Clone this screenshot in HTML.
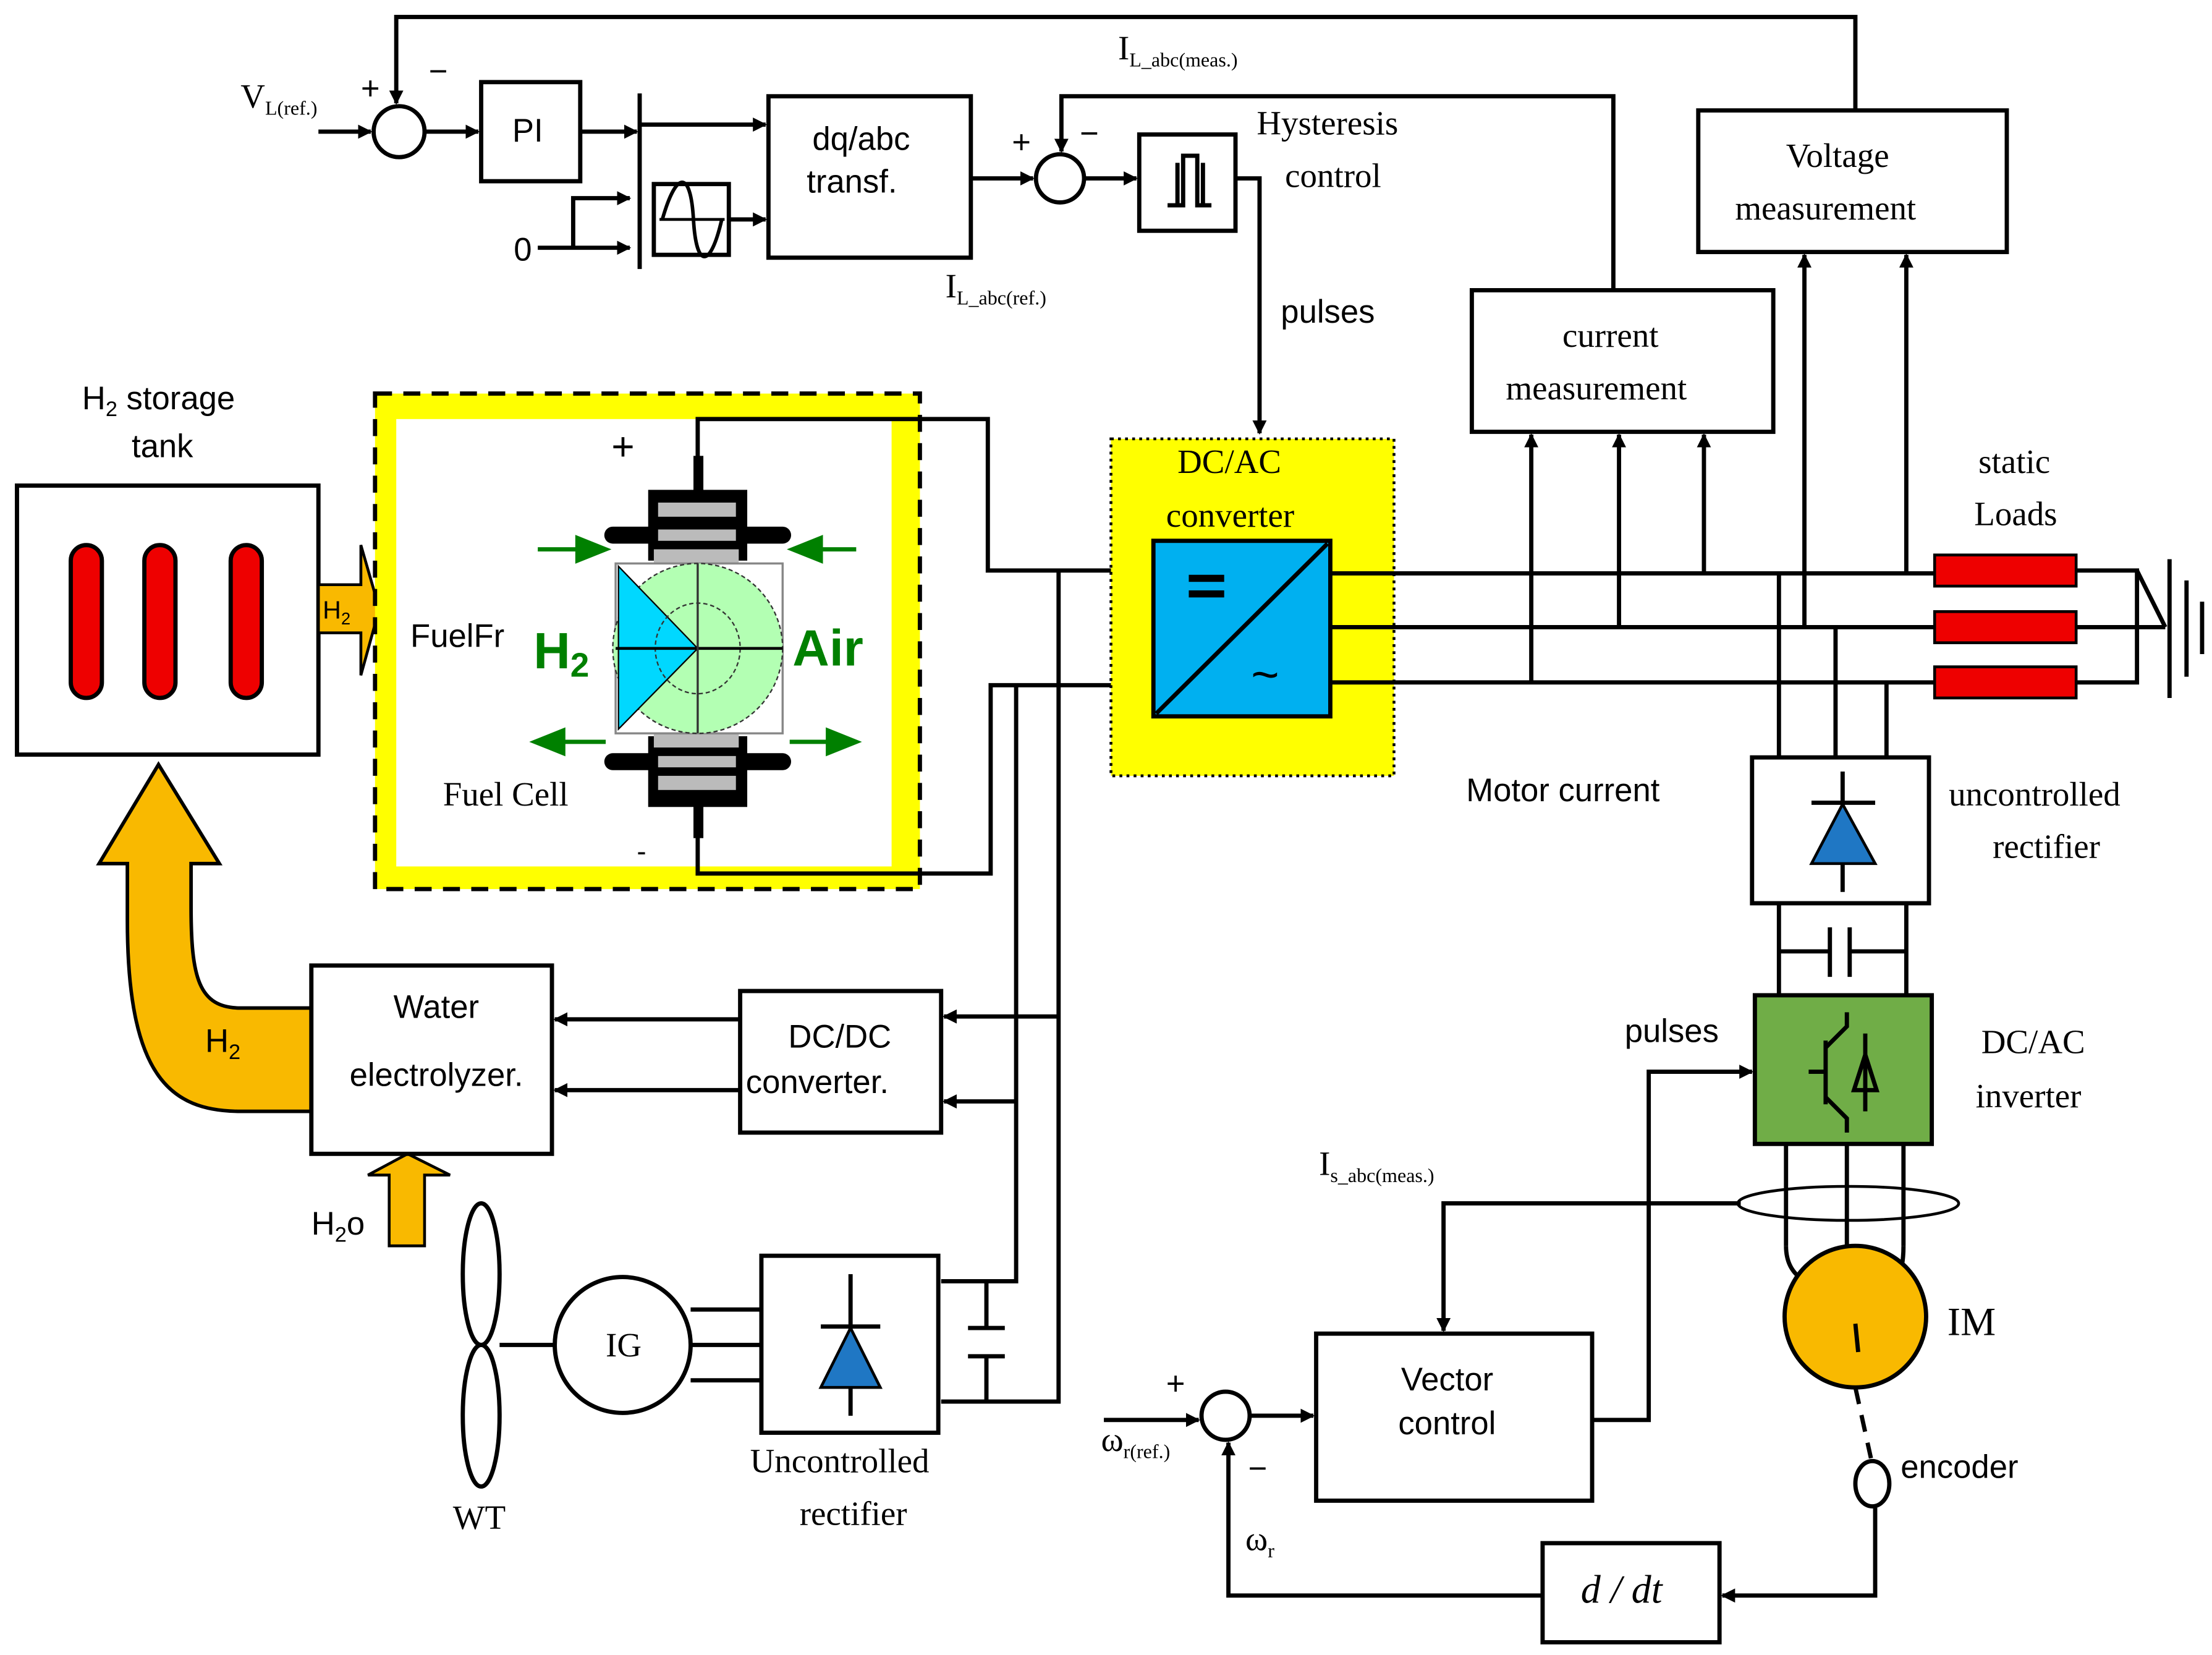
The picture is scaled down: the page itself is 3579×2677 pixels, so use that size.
<!DOCTYPE html>
<html><head><meta charset="utf-8"><style>
html,body{margin:0;padding:0;background:#fff;}
svg{display:block;}
.s{font-family:"Liberation Sans",sans-serif;}
.r{font-family:"Liberation Serif",serif;}
</style></head><body>
<svg width="3579" height="2677" viewBox="0 0 1563 1169" preserveAspectRatio="none" xmlns="http://www.w3.org/2000/svg">
<defs>
<marker id="a" markerWidth="10" markerHeight="10" refX="9" refY="5" orient="auto" markerUnits="userSpaceOnUse"><path d="M0,0 L10,5 L0,10 z" fill="#000"/></marker>
</defs>
<rect width="1563" height="1169" fill="#fff"/>
<g stroke="#000" stroke-width="3" fill="none">
<polyline points="1311,78 1311,12 280,12 280,73" marker-end="url(#a)"/>
<line x1="225" y1="93" x2="262" y2="93" marker-end="url(#a)"/>
<circle cx="282" cy="93" r="18" fill="#fff"/>
<line x1="300" y1="93" x2="338" y2="93" marker-end="url(#a)"/>
<rect x="340" y="58" width="70" height="70"/>
<line x1="410" y1="93" x2="450" y2="93" marker-end="url(#a)"/>
<line x1="452" y1="66" x2="452" y2="190"/>
<line x1="452" y1="88" x2="541" y2="88" marker-end="url(#a)"/>
<line x1="380" y1="175" x2="445" y2="175" marker-end="url(#a)"/>
<polyline points="405,175 405,140 445,140" marker-end="url(#a)"/>
<rect x="462" y="130" width="53" height="50"/>
<line x1="515" y1="155" x2="541" y2="155" marker-end="url(#a)"/>
<rect x="543" y="68" width="143" height="114"/>
<line x1="686" y1="126" x2="730" y2="126" marker-end="url(#a)"/>
<circle cx="749" cy="126" r="17" fill="#fff"/>
<polyline points="1140,205 1140,68 750,68 750,107" marker-end="url(#a)"/>
<line x1="766" y1="126" x2="803" y2="126" marker-end="url(#a)"/>
<rect x="805" y="95" width="68" height="68"/>
<polyline points="873,126 890,126 890,306" marker-end="url(#a)"/>
<rect x="1040" y="205" width="213" height="100"/>
<rect x="1200" y="78" width="218" height="100"/>
</g>
<path d="M825,145 L836,145 L836,110 L846,110 L846,145 L856,145 M832,145 L832,115 M850,145 L850,115" stroke="#000" stroke-width="3" fill="none"/>
<path d="M468,155 C478,120 488,120 490,155 C492,190 502,190 510,155" stroke="#000" stroke-width="2.5" fill="none"/>
<line x1="466" y1="155" x2="512" y2="155" stroke="#000" stroke-width="2"/>
<g class="s" font-size="23" fill="#000">
<text x="362" y="100">PI</text>
<text x="574" y="106">dq/abc</text>
<text x="570" y="136">transf.</text>
<text x="363" y="184">0</text>
<text x="255" y="70">+</text><text x="303" y="58">−</text>
<text x="715" y="108">+</text><text x="763" y="102">−</text>
<text x="905" y="228">pulses</text>
<text x="1036" y="566">Motor current</text>
<text x="1148" y="736">pulses</text>
<text x="990" y="982">Vector</text>
<text x="988" y="1013">control</text>
<text x="557" y="740">DC/DC</text>
<text x="527" y="772">converter.</text>
<text x="58" y="289">H<tspan font-size="15" dy="5">2</tspan><tspan dy="-5"> storage</tspan></text>
<text x="93" y="323">tank</text>
<text x="1343" y="1044">encoder</text>
<text x="824" y="985">+</text><text x="882" y="1045">−</text>
<text x="220" y="872">H<tspan font-size="15" dy="5">2</tspan><tspan dy="-5">o</tspan></text>
</g>
<g class="r" font-size="24" fill="#000">
<text x="170" y="76">V<tspan font-size="14" dy="5">L(ref.)</tspan></text>
<text x="790" y="42">I<tspan font-size="14" dy="5">L_abc(meas.)</tspan></text>
<text x="668" y="210">I<tspan font-size="14" dy="5">L_abc(ref.)</tspan></text>
<text x="888" y="95">Hysteresis</text>
<text x="908" y="132">control</text>
<text x="1104" y="245">current</text>
<text x="1064" y="282">measurement</text>
<text x="1262" y="118">Voltage</text>
<text x="1226" y="155">measurement</text>
<text x="1398" y="334">static</text>
<text x="1395" y="371">Loads</text>
<text x="1377" y="569">uncontrolled</text>
<text x="1408" y="606">rectifier</text>
<text x="1400" y="744">DC/AC</text>
<text x="1396" y="782">inverter</text>
<text x="1376" y="943" font-size="28">IM</text>
<text x="932" y="830">I<tspan font-size="14" dy="5">s_abc(meas.)</tspan></text>
<text x="778" y="1025">ω<tspan font-size="14" dy="5">r(ref.)</tspan></text>
<text x="880" y="1095">ω<tspan font-size="14" dy="5">r</tspan></text>
<text x="1117" y="1132" font-style="italic" font-size="28">d / dt</text>
<text x="320" y="1080">WT</text>
<text x="530" y="1040">Uncontrolled</text>
<text x="565" y="1077">rectifier</text>
</g>
<rect x="12" y="343" width="213" height="190" fill="#fff" stroke="#000" stroke-width="3"/>
<g fill="#e00" stroke="#000" stroke-width="3">
<rect x="50" y="385" width="22" height="108" rx="11"/>
<rect x="102" y="385" width="22" height="108" rx="11"/>
<rect x="163" y="385" width="22" height="108" rx="11"/>
</g>
<path d="M225,413 L255,413 L255,385 L268,430 L255,477 L255,447 L225,447 z" fill="#f9b900" stroke="#000" stroke-width="2"/>
<text x="228" y="437" class="s" font-size="18">H<tspan font-size="12" dy="4">2</tspan></text>
<path d="M220,712 L170,712 C140,712 135,690 135,640 L135,610 L155,610 L112,540 L70,610 L90,610 L90,650 C90,760 120,785 170,785 L220,785 z" fill="#f9b900" stroke="#000" stroke-width="2.5"/>
<path d="M275,880 L275,830 L260,830 L288,815 L318,830 L300,830 L300,880 z" fill="#f9b900" stroke="#000" stroke-width="2"/>
<rect x="265" y="278" width="385" height="350" fill="#ff0" stroke="#000" stroke-width="3" stroke-dasharray="12,8"/>
<rect x="280" y="296" width="350" height="316" fill="#fff"/>
<g stroke="#000" stroke-width="3" fill="none">
<polyline points="493,330 493,296 698,296 698,403 815,403"/>
<polyline points="493,590 493,617 700,617 700,484 815,484"/>
<polyline points="748,403 748,990 665,990"/>
<polyline points="718,484 718,905 665,905"/>
<line x1="748" y1="718" x2="667" y2="718" marker-end="url(#a)"/>
<line x1="718" y1="778" x2="667" y2="778" marker-end="url(#a)"/>
<line x1="523" y1="720" x2="392" y2="720" marker-end="url(#a)"/>
<line x1="523" y1="770" x2="392" y2="770" marker-end="url(#a)"/>
<rect x="220" y="682" width="170" height="133" fill="#fff"/>
<rect x="523" y="700" width="142" height="100"/>
<line x1="697" y1="905" x2="697" y2="938"/><line x1="697" y1="958" x2="697" y2="990"/>
<line x1="684" y1="938" x2="710" y2="938"/><line x1="684" y1="958" x2="710" y2="958"/>
</g>
<rect x="458" y="346" width="70" height="50" fill="#000"/>
<rect x="427" y="372" width="132" height="12" rx="6" fill="#000"/>
<rect x="465" y="355" width="55" height="10" fill="#bbb"/><rect x="465" y="374" width="55" height="8" fill="#bbb"/><rect x="462" y="388" width="60" height="10" fill="#bbb"/>
<rect x="458" y="520" width="70" height="50" fill="#000"/>
<rect x="427" y="532" width="132" height="12" rx="6" fill="#000"/>
<rect x="462" y="518" width="60" height="10" fill="#bbb"/><rect x="465" y="534" width="55" height="8" fill="#bbb"/><rect x="465" y="548" width="55" height="10" fill="#bbb"/>
<rect x="490" y="322" width="7" height="26" fill="#000"/><rect x="490" y="568" width="7" height="24" fill="#000"/>
<rect x="435" y="398" width="118" height="120" fill="#fff" stroke="#888" stroke-width="1.5"/>
<ellipse cx="493" cy="458" rx="60" ry="60" fill="#b3ffb3" stroke="#333" stroke-dasharray="3,2"/>
<path d="M437,400 L493,458 L437,515 z" fill="#00d8ff" stroke="#000"/>
<ellipse cx="493" cy="458" rx="30" ry="32" fill="none" stroke="#333" stroke-dasharray="3,2"/>
<line x1="435" y1="458" x2="553" y2="458" stroke="#000" stroke-width="2"/>
<line x1="493" y1="398" x2="493" y2="518" stroke="#333" stroke-width="1.5"/>
<g fill="#008000" stroke="#008000" stroke-width="3">
<line x1="380" y1="388" x2="410" y2="388"/><path d="M428,388 L408,380 L408,396 z"/>
<line x1="605" y1="388" x2="578" y2="388"/><path d="M560,388 L580,380 L580,396 z"/>
<line x1="428" y1="524" x2="398" y2="524"/><path d="M378,524 L398,516 L398,532 z"/>
<line x1="558" y1="524" x2="585" y2="524"/><path d="M605,524 L585,516 L585,532 z"/>
</g>
<text x="377" y="472" class="s" font-size="36" font-weight="bold" fill="#008000">H<tspan font-size="24" dy="6">2</tspan></text>
<text x="560" y="470" class="s" font-size="36" font-weight="bold" fill="#008000">Air</text>
<text x="432" y="325" class="s" font-size="28">+</text>
<text x="450" y="608" class="s" font-size="20">-</text>
<rect x="785" y="310" width="200" height="238" fill="#ff0" stroke="#000" stroke-width="2" stroke-dasharray="2,3"/>
<text x="832" y="334" class="r" font-size="24">DC/AC</text>
<text x="824" y="372" class="r" font-size="24">converter</text>
<rect x="815" y="382" width="125" height="124" fill="#00b0f0" stroke="#000" stroke-width="3"/>
<line x1="817" y1="504" x2="938" y2="384" stroke="#000" stroke-width="3"/>
<rect x="840" y="406" width="25" height="5" fill="#000"/><rect x="840" y="417" width="25" height="5" fill="#000"/>
<text x="884" y="488" class="s" font-size="34">~</text>
<g stroke="#000" stroke-width="3" fill="none">
<line x1="940" y1="405" x2="1367" y2="405"/>
<line x1="940" y1="443" x2="1367" y2="443"/>
<line x1="940" y1="482" x2="1367" y2="482"/>
<line x1="1082" y1="482" x2="1082" y2="307" marker-end="url(#a)"/>
<line x1="1144" y1="443" x2="1144" y2="307" marker-end="url(#a)"/>
<line x1="1204" y1="405" x2="1204" y2="307" marker-end="url(#a)"/>
<line x1="1275" y1="443" x2="1275" y2="180" marker-end="url(#a)"/>
<line x1="1347" y1="405" x2="1347" y2="180" marker-end="url(#a)"/>
<polyline points="1467,403 1510,403 1510,482 1467,482"/>
<line x1="1467" y1="443" x2="1530" y2="443"/>
<line x1="1510" y1="403" x2="1530" y2="443"/>
<line x1="1533" y1="395" x2="1533" y2="493"/>
<line x1="1545" y1="410" x2="1545" y2="478"/>
<line x1="1556" y1="425" x2="1556" y2="462"/>
<line x1="1257" y1="405" x2="1257" y2="535"/>
<line x1="1297" y1="443" x2="1297" y2="535"/>
<line x1="1333" y1="482" x2="1333" y2="535"/>
<rect x="1238" y="535" width="125" height="103" fill="#fff"/>
<line x1="1257" y1="638" x2="1257" y2="703"/><line x1="1347" y1="638" x2="1347" y2="703"/>
<line x1="1257" y1="672" x2="1293" y2="672"/><line x1="1307" y1="672" x2="1347" y2="672"/>
<line x1="1293" y1="655" x2="1293" y2="690"/><line x1="1307" y1="655" x2="1307" y2="690"/>
<line x1="1262" y1="808" x2="1262" y2="880"/><line x1="1305" y1="808" x2="1305" y2="880"/><line x1="1345" y1="808" x2="1345" y2="880"/>
<path d="M1262,880 C1262,900 1275,905 1285,910 M1345,880 C1345,900 1340,905 1335,910"/>
<polyline points="1125,1003 1165,1003 1165,757 1238,757" marker-end="url(#a)"/>
<polyline points="1230,850 1020,850 1020,940" marker-end="url(#a)"/>
<rect x="930" y="942" width="195" height="118"/>
<line x1="780" y1="1003" x2="847" y2="1003" marker-end="url(#a)"/>
<circle cx="866" cy="1000" r="17" fill="#fff"/>
<line x1="883" y1="1000" x2="928" y2="1000" marker-end="url(#a)"/>
<rect x="1090" y="1090" width="125" height="70"/>
<polyline points="1325,1065 1325,1127 1217,1127" marker-end="url(#a)"/>
<polyline points="1090,1127 868,1127 868,1019" marker-end="url(#a)"/>
<line x1="1311" y1="980" x2="1322" y2="1030" stroke-dasharray="12,8"/>
<ellipse cx="1323" cy="1048" rx="12" ry="16" fill="#fff"/>
<ellipse cx="340" cy="900" rx="13" ry="50"/>
<ellipse cx="340" cy="1000" rx="13" ry="50"/>
<line x1="353" y1="950" x2="392" y2="950"/>
<circle cx="440" cy="950" r="48" fill="#fff"/>
<line x1="488" y1="925" x2="538" y2="925"/><line x1="488" y1="950" x2="538" y2="950"/><line x1="488" y1="975" x2="538" y2="975"/>
<rect x="538" y="887" width="125" height="125" fill="#fff"/>
<line x1="601" y1="900" x2="601" y2="1000"/><line x1="580" y1="937" x2="622" y2="937"/>
<line x1="1302" y1="545" x2="1302" y2="630"/><line x1="1280" y1="567" x2="1325" y2="567"/>
</g>
<g fill="#e00" stroke="#000" stroke-width="2">
<rect x="1367" y="392" width="100" height="22"/><rect x="1367" y="432" width="100" height="22"/><rect x="1367" y="471" width="100" height="22"/>
</g>
<path d="M601,938 L580,980 L622,980 z" fill="#1f77c4" stroke="#000" stroke-width="2"/>
<path d="M1302,568 L1280,610 L1325,610 z" fill="#1f77c4" stroke="#000" stroke-width="2"/>
<rect x="1240" y="703" width="125" height="105" fill="#70ad47" stroke="#000" stroke-width="3"/>
<g stroke="#000" stroke-width="3" fill="none">
<line x1="1290" y1="735" x2="1290" y2="780"/>
<polyline points="1278,757 1290,757"/>
<polyline points="1290,740 1305,725 1305,715"/>
<polyline points="1290,775 1305,790 1305,800"/>
<line x1="1318" y1="730" x2="1318" y2="785"/>
<path d="M1318,745 L1310,770 L1326,770 z"/>
</g>
<ellipse cx="1306" cy="850" rx="78" ry="12" fill="none" stroke="#000" stroke-width="2"/>
<circle cx="1311" cy="930" r="50" fill="#f9b900" stroke="#000" stroke-width="3"/>
<line x1="1311" y1="935" x2="1313" y2="955" stroke="#000" stroke-width="3"/>
<!-- texts on top -->
<g class="s" font-size="23" fill="#000">
<text x="278" y="719">Water</text>
<text x="247" y="767">electrolyzer.</text>
<text x="290" y="457">FuelFr</text>
<text x="145" y="743">H<tspan font-size="15" dy="5">2</tspan></text>
</g>
<g class="r" font-size="24" fill="#000">
<text x="313" y="569">Fuel Cell</text>
<text x="428" y="958">IG</text>
</g>
</svg>
</body></html>
